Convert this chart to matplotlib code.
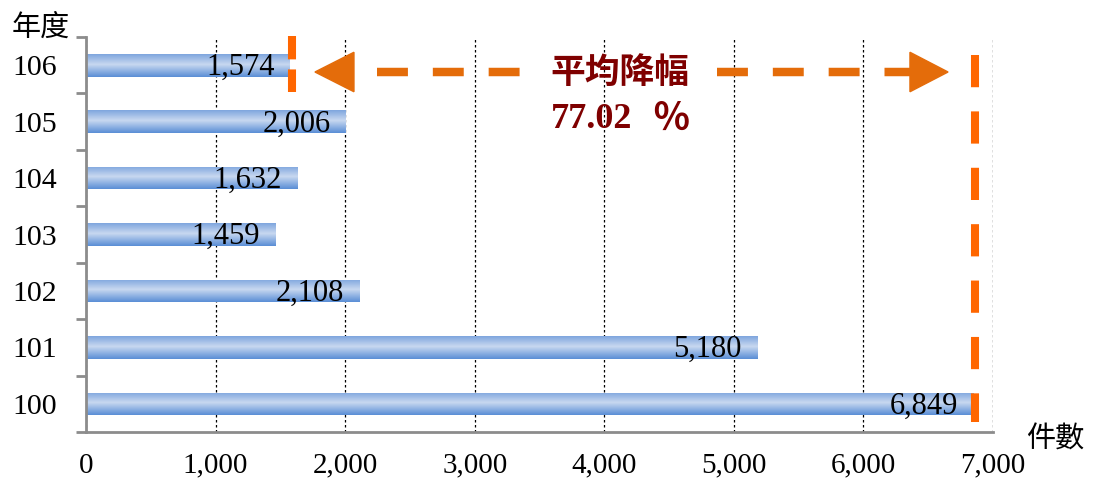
import matplotlib
matplotlib.use("Agg")
import matplotlib.pyplot as plt
import numpy as np
from matplotlib.colors import LinearSegmentedColormap
from matplotlib.patches import Polygon

years = ["100", "101", "102", "103", "104", "105", "106"]
counts = [6849, 5180, 2108, 1459, 1632, 2006, 1574]
xticks = [0, 1000, 2000, 3000, 4000, 5000, 6000, 7000]
xtick_labels = ["0", "1,000", "2,000", "3,000", "4,000", "5,000", "6,000", "7,000"]
title_text = "平均降幅"
rate_num = "77.02"
rate_pct = "％"

serif = ["Liberation Serif", "Noto Sans CJK TC", "DejaVu Sans"]
cjk = ["Noto Sans CJK TC", "DejaVu Sans"]

fig = plt.figure(figsize=(10.94, 4.82), dpi=100)
ax = fig.add_axes([0.0786, 0.1037, 0.8291, 0.8195])

ypos = np.arange(len(years))
h = 0.40
cmap = LinearSegmentedColormap.from_list(
    "g", [(0.0, "#5A8ED6"), (0.55, "#C8D8F0"), (1.0, "#7FA6DE")])
grad = np.linspace(0, 1, 64).reshape(-1, 1)
bars = ax.barh(ypos, counts, height=h, color="#9DB9E6", edgecolor="none", zorder=2)
for b, y, v in zip(bars, ypos, counts):
    im = ax.imshow(grad, cmap=cmap, aspect="auto", origin="lower",
                   extent=[0, v, y - h / 2, y + h / 2], zorder=2.5)
    im.set_clip_path(b)
    ax.text(v - 120, y - 0.04, f"{v:,}", ha="right", va="center",
            fontsize=22, family=serif, color="black", zorder=3)

ax.set_xlim(0, 7000)
ax.set_ylim(-0.5, 6.5)
ax.set_xticks(xticks)
ax.set_xticklabels(xtick_labels, family=serif, fontsize=21)
ax.set_yticks(ypos)
ax.set_yticklabels(years, family=serif, fontsize=21.5)
ax.set_yticks(np.arange(-0.5, 7, 1), minor=True)
ax.tick_params(axis="y", which="major", length=0, pad=21)
ax.tick_params(axis="y", which="minor", length=7, width=2, color="#8C8C8C")
ax.tick_params(axis="x", which="major", length=0, pad=15)
ax.xaxis.grid(True, linestyle=(0, (2, 2)), color="black", linewidth=0.9, zorder=1)
ax.set_axisbelow(True)
for s in ["top", "right"]:
    ax.spines[s].set_visible(False)
ax.spines["left"].set_color("#8C8C8C")
ax.spines["left"].set_linewidth(2)
ax.spines["bottom"].set_color("#8C8C8C")
ax.spines["bottom"].set_linewidth(2)

# orange annotation
vc = "#FF6600"
ac = "#E46C0A"
ax.plot([counts[-1] + 16, counts[-1] + 16], [6.518, 5.525], color=vc, lw=5.8,
        linestyle=(0, (2.9, 1.25)), solid_capstyle="butt", dash_capstyle="butt",
        clip_on=False, zorder=4)
ax.plot([counts[0] + 12, counts[0] + 12], [6.18, -0.32], color=vc, lw=5.8,
        linestyle=(0, (4.0, 3.0)), dash_capstyle="butt", clip_on=False, zorder=4)
ya = 5.88
dash = (0, (3.65, 2.94))
ax.plot([2246, 3504], [ya, ya], color=ac, lw=6.1, linestyle=dash,
        dash_capstyle="butt", zorder=4)
ax.plot([4870, 6359], [ya, ya], color=ac, lw=6.1, linestyle=dash,
        dash_capstyle="butt", zorder=4)
hh = 0.35
ax.add_patch(Polygon([[1767, ya], [2068, ya + hh], [2068, ya - hh]],
                     closed=True, color=ac, zorder=4))
ax.add_patch(Polygon([[6653, ya], [6359, ya + hh], [6359, ya - hh]],
                     closed=True, color=ac, zorder=4))
ax.text(4121, ya, title_text, ha="center", va="center", fontsize=25,
        family=cjk, fontweight="bold", color="#7F0000", zorder=5)
ax.text(3898, 5.03, rate_num, ha="center", va="center", fontsize=26,
        family=serif, fontweight="bold", color="#7F0000", zorder=5)
ax.text(4515, 5.05, rate_pct, ha="center", va="center", fontsize=27,
        family=cjk, fontweight="bold", color="#7F0000", zorder=5)

fig.text(41 / 1094, 1 - 28 / 482, "年度", ha="center", va="center",
         fontsize=21, family=cjk)
fig.text(1055 / 1094, 1 - 440 / 482, "件數", ha="center", va="center",
         fontsize=21, family=cjk)

fig.savefig("out.png", dpi=100)
